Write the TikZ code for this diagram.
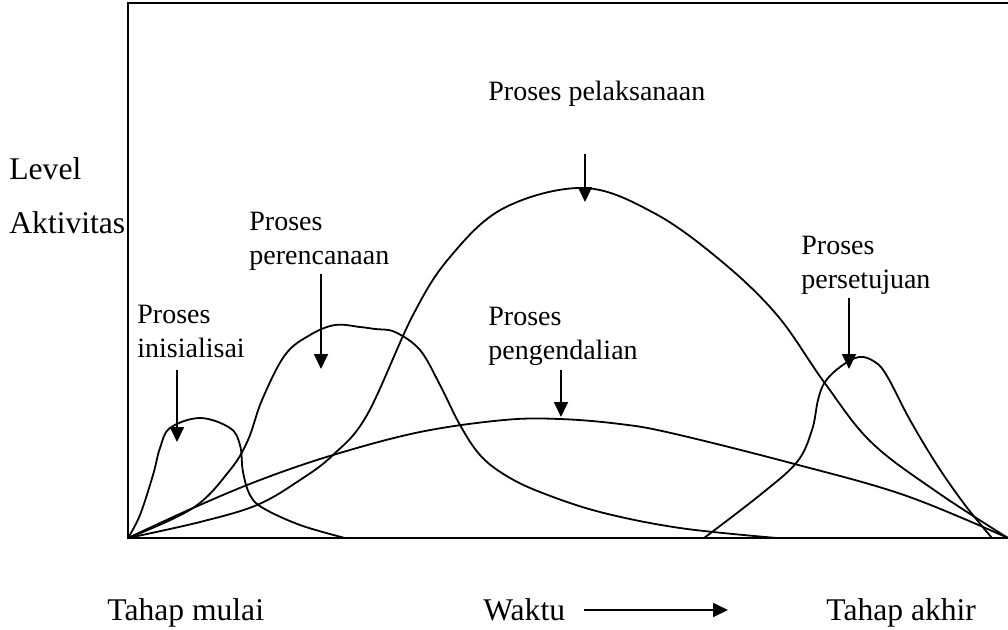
\documentclass[tikz,border=0pt]{standalone}
\usepackage{fontspec}
\setmainfont{Liberation Serif}
\usetikzlibrary{arrows.meta}

\begin{document}
\begin{tikzpicture}[x=0.5pt, y=-0.5pt, >={Triangle[width=7pt,length=7.5pt]}, font=\fontsize{15.8}{17}\selectfont]
  \tikzset{
    lbl/.style={
      anchor=base west,
      inner sep=0pt},
    proses/.style={
      lbl,
      align=left,
      font=\fontsize{14}{17}\selectfont},
    kurva/.style={
      line width=0.9pt,
      smooth,
      tension=0.6}}

  \useasboundingbox (0,0) rectangle (1008,629);

  % sumbu
  \draw[line width=1.3pt] (1008,3) -- (128,3) -- (128,538) -- (1008,538);

  % label
  \node[lbl] (level) at (9,179) {Level};
  \node[lbl] (aktivitas) at (9,233) {Aktivitas};
  \node[proses] (pelaksanaan) at (488,100) {Proses pelaksanaan};
  \node[proses] (perencanaan) at (249,264) {Proses\\perencanaan};
  \node[proses] (inisialisai) at (137,357) {Proses\\inisialisai};
  \node[proses] (pengendalian) at (488,359) {Proses\\pengendalian};
  \node[proses] (persetujuan) at (801,288) {Proses\\persetujuan};
  \node[lbl] (mulai) at (107,620) {Tahap mulai};
  \node[lbl] (waktu) at (483,620) {Waktu};
  \node[lbl] (akhir) at (826,620) {Tahap akhir};

  % kurva
  \draw[kurva] plot coordinates {(128,538) (140,515) (153,475) (160,448) (170,428) (200,418) (230,428) (240,445) (243,472) (250,495) (263,508) (300,525) (345,538)};
  \draw[kurva] plot coordinates {(128,538) (193,508) (230,470) (248,440) (262,400) (285,355) (310,335) (335,325) (360,327) (375,329) (395,332) (420,350) (440,385) (460,425) (480,455) (505,475) (540,492) (600,512) (680,528) (777,538)};
  \draw[kurva] plot coordinates {(128,538) (200,522) (257,505) (300,480) (333,455) (367,415) (413,315) (450,257) (504,208) (584,188) (654,213) (720,260) (777,315) (824,382) (871,442) (937,492) (1008,538)};
  \draw[kurva] plot coordinates {(128,538) (193,508) (260,480) (333,455) (420,432) (504,420) (560,419) (620,424) (671,433) (787,462) (904,495) (1008,538)};
  \draw[kurva] plot coordinates {(704,538) (760,495) (797,462) (812,430) (818,400) (825,382) (840,367) (859,357) (875,362) (887,376) (910,420) (937,465) (965,505) (992,538)};

  % panah
  \coordinate (pelA) at (585,154);
  \coordinate (pelB) at (585,202);
  \coordinate (perA) at (321,274);
  \coordinate (perB) at (321,369);
  \coordinate (iniA) at (177,370);
  \coordinate (iniB) at (177,442);
  \coordinate (penA) at (561,370);
  \coordinate (penB) at (561,417);
  \coordinate (setA) at (849,298);
  \coordinate (setB) at (849,369);
  \coordinate (wA) at (584,610);
  \coordinate (wB) at (728,610);

  \draw[->, line width=0.9pt] (pelA) -- (pelB);
  \draw[->, line width=0.9pt] (perA) -- (perB);
  \draw[->, line width=0.9pt] (iniA) -- (iniB);
  \draw[->, line width=0.9pt] (penA) -- (penB);
  \draw[->, line width=0.9pt] (setA) -- (setB);
  \draw[->, line width=0.9pt] (wA) -- (wB);

\end{tikzpicture}
\end{document}
